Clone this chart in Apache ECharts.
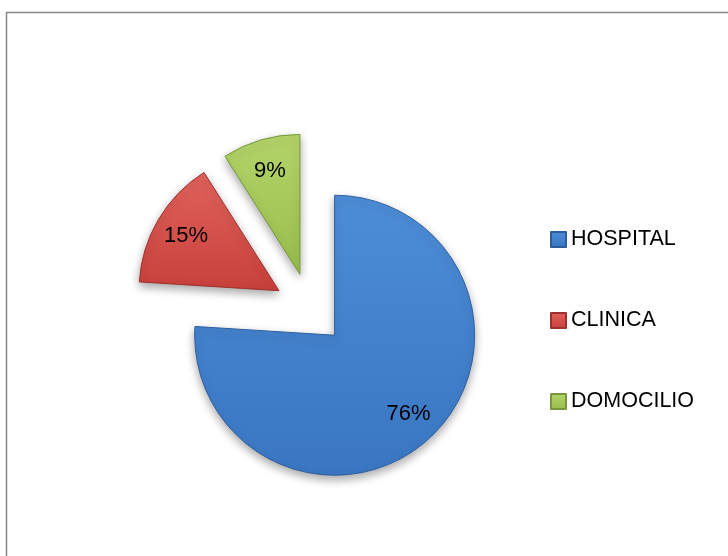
<!DOCTYPE html>
<html style="height: 100%">
<head>
    <meta charset="utf-8">
    <title>Lugar de atención</title>
    <script src="https://cdn.jsdelivr.net/npm/echarts@6/dist/echarts.min.js"></script>
</head>
<body style="margin: 0; height: 100%; background: #fff">
    <div id="main" style="width: 728px; height: 556px"></div>
    <script>
        // datos
        const categorias = ['HOSPITAL', 'CLINICA', 'DOMOCILIO'];
        const valores = [76, 15, 9];

        const colores = [
            ['#4d8dd8', '#3a76c2', '#2c5e9e'],
            ['#e0625c', '#c9403b', '#9e2f2c'],
            ['#b4d46a', '#98bd4a', '#76983a']
        ];

        function relleno(c) {
            return {
                type: 'linear', x: 0, y: 0, x2: 0, y2: 1,
                colorStops: [{ offset: 0, color: c[0] }, { offset: 1, color: c[1] }]
            };
        }

        const chart = echarts.init(document.getElementById('main'));
        const fuente = '"Liberation Sans", Arial, sans-serif';

        // todas las porciones van separadas del centro
        const datos = categorias.map((nombre, i) => ({
            name: nombre,
            value: valores[i],
            selected: true,
            itemStyle: { color: relleno(colores[i]), borderColor: colores[i][2], borderWidth: 1 }
        }));

        const etiquetas = categorias.map((nombre, i) => ({
            name: nombre,
            value: valores[i],
            selected: true
        }));

        chart.setOption({
            animation: false,
            graphic: [{
                type: 'rect',
                shape: { x: 6.5, y: 12.5, width: 800, height: 700 },
                style: { fill: 'none', stroke: '#878787', lineWidth: 1.5 },
                silent: true
            }],
            legend: {
                orient: 'vertical',
                left: 545,
                top: 223,
                itemWidth: 15,
                itemHeight: 15,
                itemGap: 58,
                icon: 'rect',
                data: categorias,
                textStyle: { fontFamily: fuente, fontSize: 21.5, lineHeight: 23, color: '#000' }
            },
            series: [{
                name: 'Lugar',
                type: 'pie',
                center: [310, 309],
                radius: 140,
                startAngle: 90,
                clockwise: true,
                selectedMode: 'multiple',
                selectedOffset: 36,
                label: { show: false },
                labelLine: { show: false },
                emphasis: { disabled: true },
                itemStyle: {
                    shadowBlur: 10,
                    shadowOffsetY: 4,
                    shadowColor: 'rgba(0, 0, 0, 0.35)'
                },
                data: datos
            }, {
                name: 'Etiquetas',
                type: 'pie',
                center: [310, 309],
                radius: [70, 140],
                startAngle: 90,
                clockwise: true,
                selectedMode: 'multiple',
                selectedOffset: 36,
                silent: true,
                legendHoverLink: false,
                itemStyle: { color: 'rgba(0,0,0,0)', borderWidth: 0 },
                label: {
                    show: true,
                    position: 'inside',
                    formatter: '{d}%',
                    fontFamily: fuente,
                    fontSize: 22,
                    color: '#000'
                },
                labelLine: { show: false },
                emphasis: { disabled: true },
                data: etiquetas
            }]
        });
    </script>
</body>
</html>
